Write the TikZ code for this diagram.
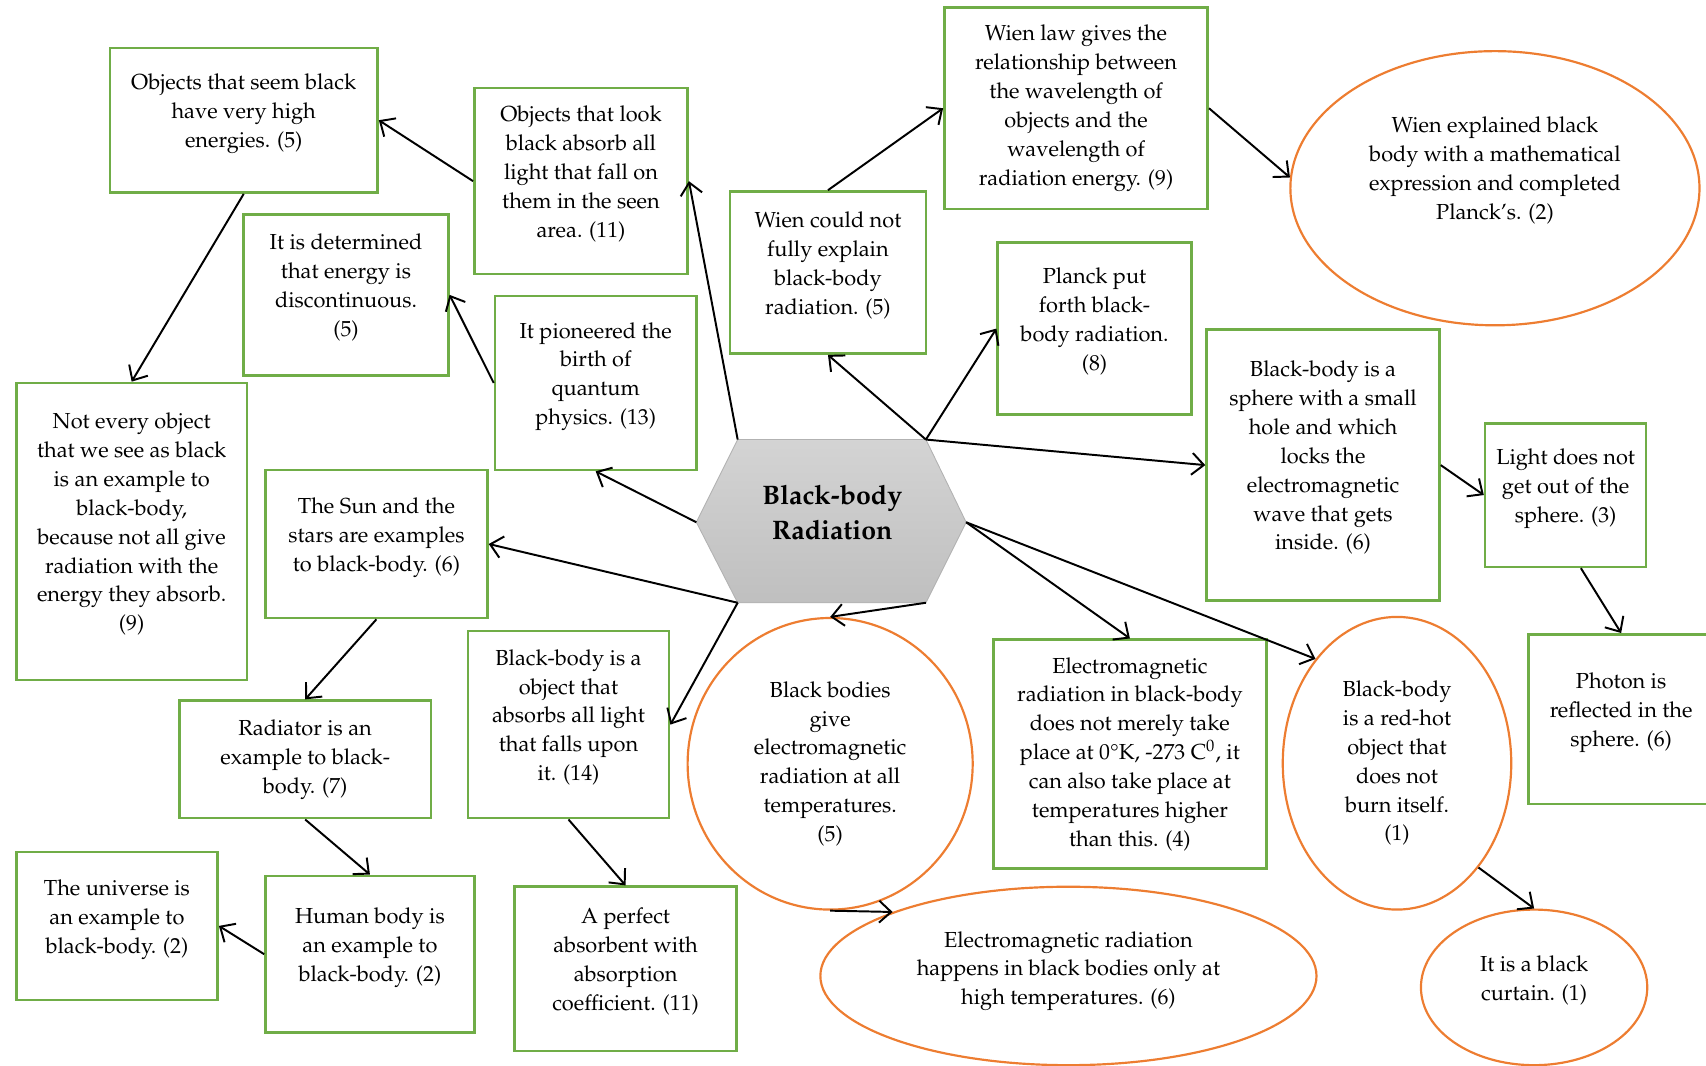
\documentclass[tikz,border=0pt]{standalone}
\usepackage[T1]{fontenc}
\usepackage{mathpazo}
\usetikzlibrary{shapes.geometric,arrows.meta}
\definecolor{cgreen}{HTML}{70AD47}
\definecolor{corange}{HTML}{ED7D31}
\newcommand{\padlow}[1]{\\[#1]\rule{0pt}{0pt}}
\tikzset{
  concept/.style={draw=cgreen, line width=1.2pt, align=center, inner sep=0pt,
    font=\fontsize{10}{13.25}\selectfont},
  idea/.style={ellipse, draw=corange, line width=1pt, align=center, inner sep=0pt,
    font=\fontsize{10}{13.25}\selectfont},
  link/.style={->, line width=.9pt}
}
\begin{document}
\begin{tikzpicture}[>={Straight Barb[length=5.5pt,width=10pt]}, x=.5pt, y=-.5pt]
	\useasboundingbox (0,0) rectangle (1568,979);
	% centre
	\coordinate (hubTL) at (678,404); \coordinate (hubTR) at (851,404);
	\coordinate (hubR) at (888,480); \coordinate (hubBR) at (851,554);
	\coordinate (hubBL) at (678,554); \coordinate (hubL) at (640,480);
	\shadedraw[top color=gray!34, bottom color=gray!50, draw=gray!60, line width=.4pt]
		(hubTL)--(hubTR)--(hubR)--(hubBR)--(hubBL)--(hubL)--cycle;
	\node[align=center, font=\fontsize{12.3}{16}\selectfont\bfseries] (hub) at (765,471) {Black-body\\Radiation};
	% boxes
	\node[concept, minimum width=123pt, minimum height=66.5pt] (seem) at (224,110.5) {Objects that seem black\\have very high\\energies. (5)\padlow{-4.5pt}};
	\node[concept, minimum width=98pt, minimum height=85.5pt] (look) at (534,166.5) {Objects that look\\black absorb all\\light that fall on\\them in the seen\\area. (11)\padlow{-4.5pt}};
	\node[concept, minimum width=94pt, minimum height=74pt] (discont) at (318,271) {It is determined\\that energy is\\discontinuous.\\(5)\padlow{-4.5pt}};
	\node[concept, minimum width=92.5pt, minimum height=80pt] (quantum) at (547.5,352) {It pioneered the\\birth of\\quantum\\physics. (13)\padlow{-4.5pt}};
	\node[concept, minimum width=106pt, minimum height=136.5pt] (notevery) at (121,488.5) {Not every object\\that we see as black\\is an example to\\black-body,\\because not all give\\radiation with the\\energy they absorb.\\(9)\padlow{-4.5pt}};
	\node[concept, minimum width=102pt, minimum height=68pt] (sun) at (346,500) {The Sun and the\\stars are examples\\to black-body. (6)\padlow{-4.5pt}};
	\node[concept, minimum width=115.5pt, minimum height=54pt] (radiator) at (280.5,698) {Radiator is an\\example to black-\\body. (7)};
	\node[concept, minimum width=92.5pt, minimum height=86pt] (absorbs) at (522.5,666) {Black-body is a\\object that\\absorbs all light\\that falls upon\\it. (14)\padlow{-4.5pt}};
	\node[concept, minimum width=92.5pt, minimum height=68pt] (universe) at (107.5,851) {The universe is\\an example to\\black-body. (2)\padlow{-4.5pt}};
	\node[concept, minimum width=96pt, minimum height=72pt] (human) at (340,877) {Human body is\\an example to\\black-body. (2)\padlow{-4.5pt}};
	\node[concept, minimum width=102pt, minimum height=75.5pt] (perfect) at (575,890.5) {A perfect\\absorbent with\\absorption\\coefficient. (11)\padlow{-4.5pt}};
	\node[concept, minimum width=90pt, minimum height=74.5pt] (wiennot) at (761,250.5) {Wien could not\\fully explain\\black-body\\radiation. (5)\padlow{-4.5pt}};
	\node[concept, minimum width=121pt, minimum height=92.5pt] (wienlaw) at (989,99.5) {Wien law gives the\\relationship between\\the wavelength of\\objects and the\\wavelength of\\radiation energy. (9)};
	\node[concept, minimum width=89pt, minimum height=79pt] (planck) at (1006,302) {Planck put\\forth black-\\body radiation.\\(8)\padlow{-4.5pt}};
	\node[concept, minimum width=107pt, minimum height=124.5pt] (sphere) at (1216,427.5) {Black-body is a\\sphere with a small\\hole and which\\locks the\\electromagnetic\\wave that gets\\inside. (6)\padlow{-4.5pt}};
	\node[concept, minimum width=74pt, minimum height=66pt] (light) at (1439,455) {Light does not\\get out of the\\sphere. (3)\padlow{-4.5pt}};
	\node[concept, minimum width=85pt, minimum height=78pt] (photon) at (1490,661) {Photon is\\reflected in the\\sphere. (6)\padlow{-4.5pt}};
	\node[concept, minimum width=125.5pt, minimum height=105pt] (zero) at (1038.5,693) {Electromagnetic\\radiation in black-body\\does not merely take\\place at 0\textdegree K, -273 C\textsuperscript{0}, it\\can also take place at\\temperatures higher\\than this. (4)};
	% ellipses
	\node[idea, minimum width=131pt, minimum height=134pt] (alltemp) at (763,702) {Black bodies\\give\\electromagnetic\\radiation at all\\temperatures.\\(5)};
	\node[idea, minimum width=228pt, minimum height=82pt] (hightemp) at (982,897) {Electromagnetic radiation\\happens in black bodies only at\\high temperatures. (6)\padlow{-6pt}};
	\node[idea, minimum width=188pt, minimum height=126pt] (wienexp) at (1374,173) {Wien explained black\\body with a mathematical\\expression and completed\\Planck's. (2)\padlow{5pt}};
	\node[idea, minimum width=105pt, minimum height=134.5pt] (redhot) at (1284,701.5) {Black-body\\is a red-hot\\object that\\does not\\burn itself.\\(1)};
	\node[idea, minimum width=104pt, minimum height=71.5pt] (curtain) at (1410,907.5) {It is a black\\curtain. (1)\padlow{-5pt}};
	% arrows
	\draw[link] (hubTL) -- (look.east);
	\draw[link] (hubL) -- (quantum.south);
	\draw[link] (hubBL) -- (sun.east);
	\draw[link] (hubBL) -- (absorbs.east);
	\draw[link] (hubBR) -- (alltemp.north);
	\draw[link] (hubTR) -- (wiennot.south);
	\draw[link] (hubTR) -- (planck.west);
	\draw[link] (hubTR) -- (sphere.west);
	\draw[link] (hubR) -- (zero.north);
	\draw[link] (hubR) -- (redhot.128);
	\draw[link] (wiennot.north) -- (wienlaw.west);
	\draw[link] (wienlaw.east) -- (wienexp.177);
	\draw[link] (sphere.east) -- (light.west);
	\draw[link] ([xshift=7pt]light.south) -- (photon.north);
	\draw[link] (redhot.-52) -- (curtain.north);
	\draw[link] (alltemp.south) -- (hightemp.160);
	\draw[link] (look.west) -- (seem.east);
	\draw[link] (seem.south) -- (notevery.north);
	\draw[link] (quantum.west) -- (discont.east);
	\draw[link] (sun.south) -- (radiator.north);
	\draw[link] (radiator.south) -- (human.north);
	\draw[link] (human.west) -- (universe.east);
	\draw[link] (absorbs.south) -- (perfect.north);
\end{tikzpicture}
\end{document}
